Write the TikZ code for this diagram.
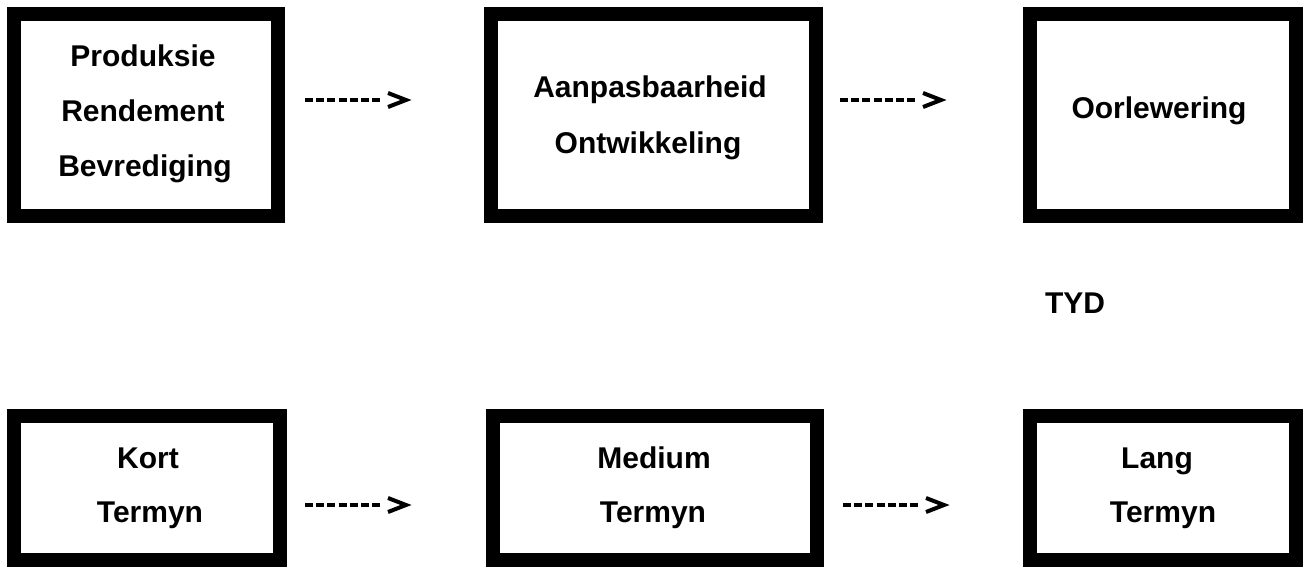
\documentclass[tikz,border=0pt]{standalone}
\usepackage{fontspec}
\setmainfont{Liberation Sans}
\begin{document}
\begin{tikzpicture}[x=0.75pt,y=-0.75pt,
  frame/.style={draw=black, line width=10.5pt, inner sep=0pt},
  topframe/.style={frame, minimum height=151.5pt},
  lowframe/.style={frame, minimum height=108pt},
  word/.style={font=\bfseries\fontsize{22.5}{27}\selectfont, inner sep=0pt, anchor=base},
  dashline/.style={line width=3pt, dash pattern=on 6pt off 2.4pt},
  chevron/.style={line width=3pt, miter limit=10}]
\fill[white] (0,0) rectangle (1308,567);
\useasboundingbox (0,0) rectangle (1308,567);

% frames, upper row
\node[topframe, minimum width=198pt]    (b1) at (146,115) {};
\node[topframe, minimum width=243.75pt] (b2) at (653.5,115) {};
\node[topframe, minimum width=199.5pt]  (b3) at (1163,115) {};
% frames, lower row
\node[lowframe, minimum width=199.5pt]  (b4) at (147,488) {};
\node[lowframe, minimum width=243pt]    (b5) at (655,488) {};
\node[lowframe, minimum width=199.5pt]  (b6) at (1163,488) {};

% box texts
\node[word] (t1a) at (143,66)  {Produksie};
\node[word] (t1b) at (143,121) {Rendement};
\node[word] (t1c) at (145,176) {Bevrediging};
\node[word] (t2a) at (650,98)  {Aanpasbaarheid};
\node[word] (t2b) at (648,153) {Ontwikkeling};
\node[word] (t3)  at (1159,118) {Oorlewering};
\node[word] (tyd) at (1075,313) {TYD};
\node[word] (t4a) at (148,468) {Kort};
\node[word] (t4b) at (150,522) {Termyn};
\node[word] (t5a) at (654,468) {Medium};
\node[word] (t5b) at (653,522) {Termyn};
\node[word] (t6a) at (1157,468) {Lang};
\node[word] (t6b) at (1163,522) {Termyn};

% dashed arrows between the columns
\coordinate (a1s) at (305,100);  \coordinate (a1e) at (381,100);
\coordinate (a2s) at (840,100);  \coordinate (a2e) at (916,100);
\coordinate (a3s) at (305,505);  \coordinate (a3e) at (381,505);
\coordinate (a4s) at (843,505);  \coordinate (a4e) at (919,505);
\foreach \s/\e in {a1s/a1e, a2s/a2e, a3s/a3e, a4s/a4e}{
  \draw[dashline] (\s) -- (\e);
  \draw[chevron] ([shift={(7,-7)}]\e) -- ([shift={(25,0)}]\e) -- ([shift={(7,7)}]\e);
}
\end{tikzpicture}
\end{document}
